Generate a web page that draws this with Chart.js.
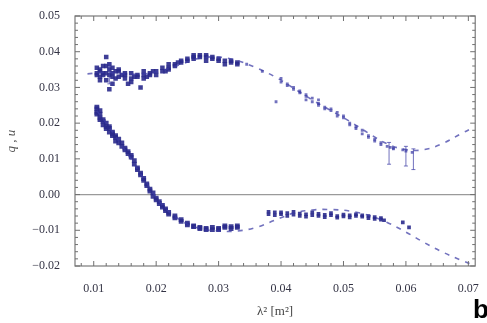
<!DOCTYPE html>
<html>
<head>
<meta charset="utf-8">
<script src="https://cdn.jsdelivr.net/npm/chart.js@4/dist/chart.umd.min.js"></script>
<style>
  html, body { margin: 0; padding: 0; background: #fff; }
  #wrap { width: 487px; height: 323px; }
</style>
</head>
<body>
<div id="wrap"><canvas id="qu"></canvas></div>
<script>
// lambda^2 ticks and q/u ticks
const xTicks = [0.01, 0.02, 0.03, 0.04, 0.05, 0.06, 0.07];
const yTicks = [-0.02, -0.01, 0.00, 0.01, 0.02, 0.03, 0.04, 0.05];

// q, dense part (low lambda^2)
const qDenseX = [0.0105, 0.0105, 0.0105, 0.011, 0.011, 0.011, 0.011, 0.0115, 0.0115, 0.0115,
  0.012, 0.012, 0.012, 0.012, 0.0125, 0.0125, 0.0125, 0.013, 0.013, 0.013, 0.013,
  0.0135, 0.0135, 0.014, 0.014, 0.014, 0.015, 0.015, 0.015, 0.016, 0.016, 0.016,
  0.017, 0.017, 0.0175, 0.018, 0.018, 0.018, 0.019, 0.019, 0.020, 0.020, 0.021, 0.021,
  0.022, 0.022, 0.022, 0.023, 0.023, 0.024, 0.024, 0.025, 0.025, 0.026, 0.026, 0.026,
  0.027, 0.027, 0.028, 0.028, 0.028, 0.029, 0.029, 0.030, 0.030, 0.031, 0.031,
  0.032, 0.032, 0.033, 0.033, 0.0125, 0.0155, 0.0145, 0.0165, 0.0185, 0.0195, 0.0215, 0.0235];
const qDense = [0.034, 0.0335, 0.0355, 0.033, 0.035, 0.0345, 0.032, 0.034, 0.036, 0.0335,
  0.0385, 0.036, 0.034, 0.032, 0.035, 0.0335, 0.0365, 0.034, 0.033, 0.0355, 0.031,
  0.0345, 0.0325, 0.035, 0.033, 0.0345, 0.0335, 0.034, 0.0325, 0.0325, 0.034, 0.0315,
  0.033, 0.0335, 0.0300, 0.0335, 0.0345, 0.0325, 0.034, 0.0335, 0.0345, 0.0335, 0.0345, 0.0355,
  0.035, 0.0355, 0.0365, 0.0365, 0.036, 0.0375, 0.037, 0.038, 0.0375, 0.0385, 0.039, 0.038,
  0.039, 0.0385, 0.0385, 0.0375, 0.039, 0.038, 0.0385, 0.038, 0.0375, 0.0375, 0.0365,
  0.037, 0.0375, 0.037, 0.0365, 0.0295, 0.0310, 0.0335, 0.0330, 0.0330, 0.0345, 0.0345, 0.0370];

// q, sparse part (high lambda^2)
const qSparseX = [0.0345, 0.037, 0.0392, 0.040, 0.040, 0.041, 0.041, 0.042, 0.042, 0.043, 0.043,
  0.044, 0.044, 0.044, 0.045, 0.045, 0.046, 0.046, 0.046, 0.047, 0.047, 0.048, 0.048,
  0.049, 0.049, 0.050, 0.050, 0.051, 0.051, 0.052, 0.052, 0.053, 0.053, 0.054, 0.054,
  0.055, 0.055, 0.056, 0.056, 0.057, 0.0575, 0.058, 0.058, 0.0595, 0.060, 0.061];
const qSparse = [0.0365, 0.0345, 0.026, 0.0325, 0.0315, 0.031, 0.0305, 0.0295, 0.030, 0.029, 0.0285,
  0.0275, 0.028, 0.0265, 0.027, 0.026, 0.0255, 0.025, 0.0265, 0.0245, 0.024, 0.0235, 0.024,
  0.023, 0.022, 0.0215, 0.022, 0.0195, 0.020, 0.0185, 0.019, 0.018, 0.017, 0.0165, 0.016,
  0.0155, 0.015, 0.0145, 0.014, 0.0135, 0.0132, 0.013, 0.0128, 0.0125, 0.0122, 0.0118];

// u, dense part
const uDenseX = [0.0105, 0.0105, 0.0105, 0.0105, 0.011, 0.011, 0.011, 0.011, 0.0115, 0.0115, 0.0115,
  0.012, 0.012, 0.012, 0.0125, 0.0125, 0.0125, 0.013, 0.013, 0.013, 0.0135, 0.0135, 0.0135,
  0.014, 0.014, 0.0145, 0.0145, 0.015, 0.015, 0.0155, 0.0155, 0.016, 0.016, 0.0165, 0.0165,
  0.017, 0.017, 0.0175, 0.0175, 0.018, 0.018, 0.0185, 0.0185, 0.019, 0.019, 0.0195, 0.0195,
  0.020, 0.020, 0.0205, 0.0205, 0.021, 0.021, 0.0215, 0.0215, 0.022, 0.022, 0.023, 0.023,
  0.024, 0.024, 0.025, 0.025, 0.026, 0.026, 0.027, 0.027, 0.028, 0.028, 0.029, 0.029,
  0.030, 0.030, 0.031, 0.031, 0.032, 0.032, 0.033, 0.033];
const uDense = [0.0245, 0.023, 0.0225, 0.024, 0.0225, 0.0215, 0.0235, 0.021, 0.021, 0.0205, 0.0195,
  0.020, 0.019, 0.0185, 0.0185, 0.0175, 0.019, 0.017, 0.0165, 0.0175, 0.016, 0.015, 0.0165,
  0.0155, 0.0145, 0.0135, 0.0145, 0.0125, 0.013, 0.0115, 0.012, 0.0105, 0.011, 0.0095, 0.0085,
  0.0075, 0.007, 0.0055, 0.006, 0.0045, 0.004, 0.0025, 0.003, 0.0015, 0.001, 0.0005, -0.0005,
  -0.001, -0.0015, -0.002, -0.0025, -0.003, -0.0035, -0.004, -0.0045, -0.005, -0.0055, -0.006, -0.0065,
  -0.007, -0.0075, -0.008, -0.0085, -0.009, -0.0088, -0.0095, -0.0092, -0.0098, -0.0095, -0.0098, -0.0092,
  -0.0095, -0.0098, -0.0092, -0.0088, -0.009, -0.0095, -0.0088, -0.0092];

// u, flat part
const uSparseX = [0.038, 0.038, 0.039, 0.039, 0.040, 0.040, 0.041, 0.041, 0.042, 0.042, 0.043, 0.043,
  0.044, 0.044, 0.045, 0.045, 0.046, 0.046, 0.047, 0.047, 0.048, 0.048, 0.049, 0.049,
  0.050, 0.050, 0.051, 0.051, 0.052, 0.052, 0.053, 0.053, 0.054, 0.054, 0.055, 0.055,
  0.056, 0.056, 0.0565, 0.0595, 0.0605];
const uSparse = [-0.0048, -0.0055, -0.005, -0.0058, -0.0055, -0.005, -0.0052, -0.006, -0.0056, -0.0048, -0.006, -0.0053,
  -0.0055, -0.0062, -0.0058, -0.005, -0.006, -0.0054, -0.0057, -0.0063, -0.0058, -0.0052, -0.006, -0.0065,
  -0.0056, -0.0061, -0.0058, -0.0064, -0.0055, -0.006, -0.0062, -0.0058, -0.006, -0.0066, -0.0063, -0.0068,
  -0.0066, -0.007, -0.0072, -0.0078, -0.0092];

// model curves
const qModelX = [0.009, 0.012, 0.015, 0.018, 0.021, 0.024, 0.027, 0.030, 0.033, 0.036, 0.039,
  0.042, 0.045, 0.048, 0.051, 0.054, 0.057, 0.060, 0.063, 0.066, 0.069, 0.0705];
const qModel = [0.0338, 0.0342, 0.0338, 0.0338, 0.0348, 0.0365, 0.0382, 0.0385, 0.0375, 0.0355, 0.0330,
  0.0298, 0.0265, 0.0235, 0.0205, 0.0172, 0.0142, 0.0126, 0.0126, 0.0144, 0.0172, 0.0185];
const uModelX = [0.0105, 0.012, 0.015, 0.018, 0.021, 0.024, 0.027, 0.030, 0.033, 0.036, 0.039,
  0.042, 0.045, 0.048, 0.051, 0.054, 0.057, 0.060, 0.063, 0.066, 0.069, 0.0705];
const uModel = [0.0235, 0.0200, 0.0125, 0.0045, -0.0030, -0.0073, -0.0095, -0.0102, -0.0102, -0.0092, -0.0072,
  -0.0052, -0.0043, -0.0042, -0.0046, -0.0058, -0.0078, -0.0105, -0.0135, -0.0162, -0.0185, -0.0195];

// a few error bars
const errX = [0.0125, 0.0573, 0.0600, 0.0612];
const errLo = [0.0310, 0.0085, 0.0080, 0.0070];
const errHi = [0.0365, 0.0146, 0.0135, 0.0128];

const pts = (xs, ys) => xs.map((x, i) => ({ x: x, y: ys[i] }));
const blue = 'rgba(42, 42, 140, 0.9)';
const lightBlue = 'rgba(60, 60, 165, 0.72)';

const frame = {
  id: 'frame',
  beforeDatasetsDraw(chart) {
    const { ctx, chartArea: a, scales: { y } } = chart;
    ctx.save();
    // zero line
    ctx.strokeStyle = '#9a9a9a';
    ctx.lineWidth = 1.2;
    const y0 = y.getPixelForValue(0);
    ctx.beginPath(); ctx.moveTo(a.left, y0); ctx.lineTo(a.right, y0); ctx.stroke();
    ctx.restore();
  },
  afterDatasetsDraw(chart) {
    const { ctx, chartArea: a, scales: { x, y } } = chart;
    ctx.save();
    // error bars
    ctx.strokeStyle = lightBlue;
    ctx.lineWidth = 1;
    errX.forEach((v, i) => {
      const px = x.getPixelForValue(v);
      const p1 = y.getPixelForValue(errLo[i]), p2 = y.getPixelForValue(errHi[i]);
      ctx.beginPath();
      ctx.moveTo(px, p1); ctx.lineTo(px, p2);
      ctx.moveTo(px - 2, p1); ctx.lineTo(px + 2, p1);
      ctx.moveTo(px - 2, p2); ctx.lineTo(px + 2, p2);
      ctx.stroke();
    });
    // frame
    ctx.strokeStyle = '#7a7a7a';
    ctx.lineWidth = 1.2;
    ctx.strokeRect(a.left, a.top, a.right - a.left, a.bottom - a.top);
    // inward ticks
    ctx.lineWidth = 1;
    ctx.strokeStyle = '#707070';
    ctx.beginPath();
    for (let k = 0; k <= 32; k++) {
      const v = 0.002 * k + 0.006;
      const px = x.getPixelForValue(v);
      if (px < a.left || px > a.right) continue;
      const len = Math.abs(v * 100 - Math.round(v * 100)) < 1e-6 ? 5 : 3;
      ctx.moveTo(px, a.bottom); ctx.lineTo(px, a.bottom - len);
      ctx.moveTo(px, a.top); ctx.lineTo(px, a.top + len);
    }
    for (let k = 0; k <= 35; k++) {
      const v = -0.02 + 0.002 * k;
      const py = y.getPixelForValue(v);
      const len = k % 5 === 0 ? 5 : 3;
      ctx.moveTo(a.left, py); ctx.lineTo(a.left + len, py);
      ctx.moveTo(a.right, py); ctx.lineTo(a.right - len, py);
    }
    ctx.stroke();
    // panel letter
    ctx.fillStyle = '#000';
    ctx.font = 'bold 26px "Liberation Sans"';
    ctx.textAlign = 'left';
    ctx.textBaseline = 'alphabetic';
    ctx.fillText('b', 473, 318);
    ctx.restore();
  }
};

new Chart('qu', {
  type: 'scatter',
  data: {
    datasets: [
      { data: pts(qModelX, qModel), showLine: true, borderColor: lightBlue, borderWidth: 1.6,
        borderDash: [5, 6], pointRadius: 0, tension: 0.4, fill: false },
      { data: pts(uModelX, uModel), showLine: true, borderColor: lightBlue, borderWidth: 1.6,
        borderDash: [5, 6], pointRadius: 0, tension: 0.4, fill: false },
      { data: pts(qDenseX, qDense), backgroundColor: blue, borderWidth: 0, pointRadius: 3.2, pointStyle: 'rect' },
      { data: pts(uDenseX, uDense), backgroundColor: blue, borderWidth: 0, pointRadius: 3.4, pointStyle: 'rect' },
      { data: pts(qSparseX, qSparse), backgroundColor: lightBlue, borderWidth: 0, pointRadius: 2, pointStyle: 'rect' },
      { data: pts(uSparseX, uSparse), backgroundColor: blue, borderWidth: 0, pointRadius: 2.6, pointStyle: 'rect' }
    ]
  },
  options: {
    responsive: true,
    maintainAspectRatio: false,
    animation: false,
    layout: { padding: { top: 16, right: 9, left: 0, bottom: 0 } },
    plugins: { legend: { display: false }, tooltip: { enabled: false } },
    scales: {
      x: {
        type: 'linear', min: 0.007, max: 0.0711,
        afterBuildTicks: s => { s.ticks = xTicks.map(v => ({ value: v })); },
        afterFit: s => { s.height = 57; },
        grid: { display: false },
        border: { display: false },
        ticks: { padding: 8, color: '#333344', font: { family: 'Liberation Serif', size: 12 },
          maxRotation: 0, callback: v => v.toFixed(2) },
        title: { display: true, text: 'λ² [m²]', color: '#444',
          font: { family: 'Liberation Serif', size: 13 }, padding: { top: 4 } }
      },
      y: {
        type: 'linear', min: -0.02, max: 0.05,
        afterBuildTicks: s => { s.ticks = yTicks.map(v => ({ value: v })); },
        afterFit: s => { s.width = 75; },
        grid: { display: false },
        border: { display: false },
        ticks: { padding: 7, color: '#333344', font: { family: 'Liberation Serif', size: 12 },
          callback: v => (v < 0 ? '\u2212' + Math.abs(v).toFixed(2) : v.toFixed(2)) },
        title: { display: true, text: 'q , u', color: '#555',
          font: { family: 'Liberation Serif', size: 13, style: 'italic' }, padding: { bottom: 4 } }
      }
    }
  },
  plugins: [frame]
});
</script>
</body>
</html>
